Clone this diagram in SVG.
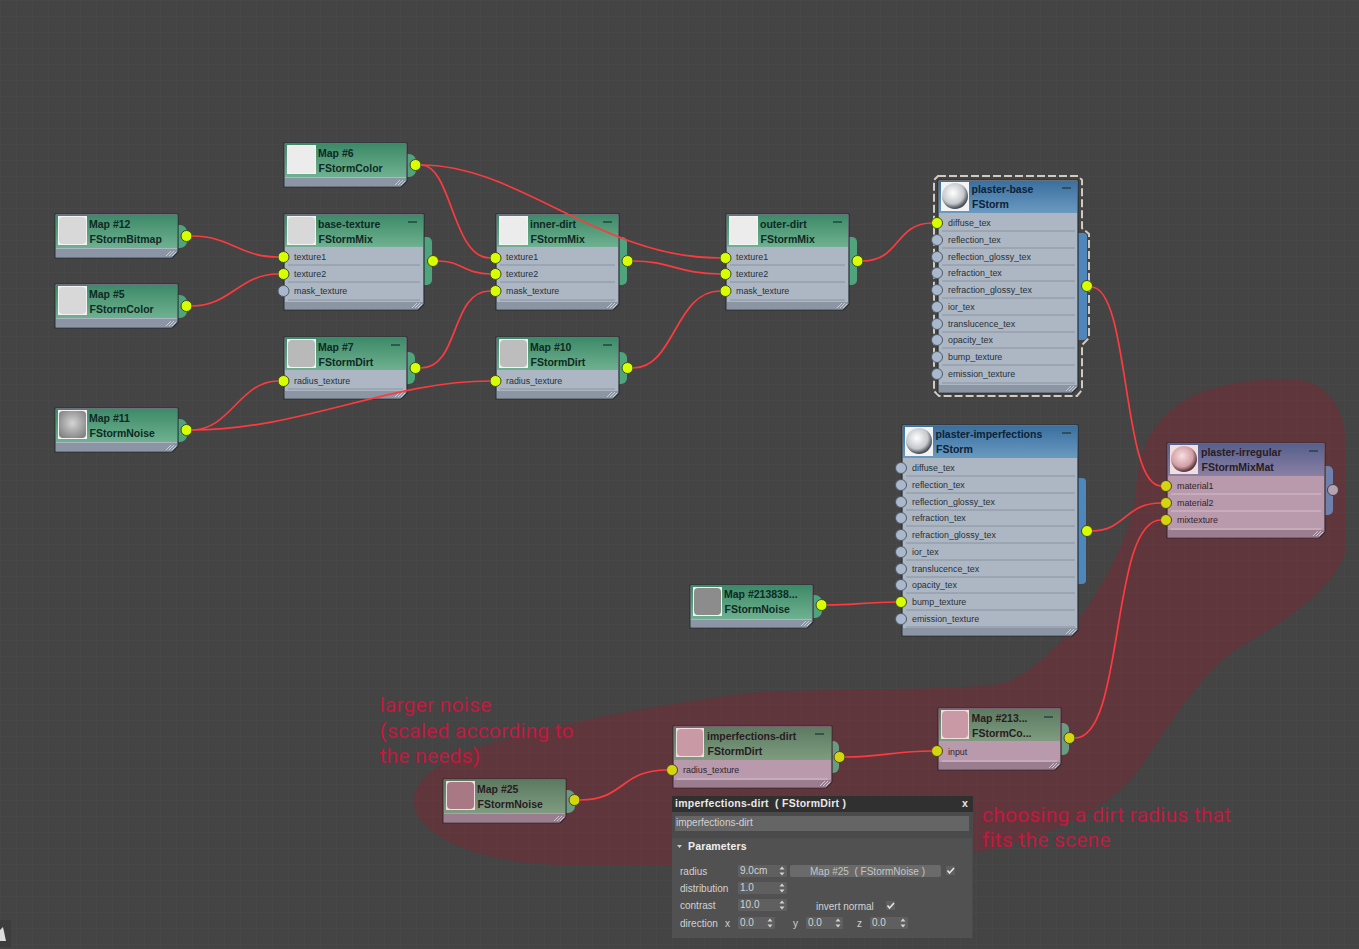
<svg xmlns="http://www.w3.org/2000/svg" width="1359" height="949" viewBox="0 0 1359 949">
<style>
.t{font-family:"Liberation Sans",Arial,sans-serif;font-size:10.5px;font-weight:700;fill:#0e2a24}
.tb{fill:#0c2238}
.tp{fill:#2a1c22}
.r{font-family:"Liberation Sans",Arial,sans-serif;font-size:8.9px;fill:#27303a}
.rp{fill:#33252e}
.box{fill:#adb7c3;stroke:#262f33;stroke-width:1.2;stroke-linejoin:round}
.boxp{fill:#b89aac;stroke:#3a2730;stroke-width:1.2;stroke-linejoin:round}
.foot{fill:#8b95a3}
.footp{fill:#9a7e90}
.g{fill:url(#hg)}
.gp{fill:url(#hgp)}
.b{fill:url(#hb)}
.vp{fill:url(#hv)}
.tabg{fill:#4fa37d}
.tabgp{fill:#6b9a82}
.tabb{fill:#4f86bb}
.tabv{fill:#7080ad}
.th{fill:#f3f3f3}
.thi{fill:#d8d8d8}
.thw{fill:#ececec}
.thp{fill:#f1dfe0}
.thq{fill:#c99aa6}
.sep{stroke:#8a94a0;stroke-width:1}
.sepp{stroke:#d6bdca;stroke-width:1}
.min{stroke:#244;stroke-width:1.5}
.on{fill:#d8ff00;stroke:#3d4a20;stroke-width:1}
.onp{fill:#d3d60f;stroke:#4a4220;stroke-width:1}
.off{fill:#a9b8cc;stroke:#4e5a68;stroke-width:1}
.offp{fill:#b5a2b0;stroke:#4b3b45;stroke-width:1}
.wire{fill:none;stroke:#ff3a3f;stroke-width:1.7}
.note{font-family:Roboto,"Liberation Sans",sans-serif;font-size:21px;fill:#c3183f;letter-spacing:.2px}
.p{font-family:"Liberation Sans",Arial,sans-serif;font-size:10px;fill:#d2d2d2}
.pt{font-family:"Liberation Sans",Arial,sans-serif;font-size:10.5px;font-weight:700;fill:#e8e8e8}
.f{fill:#5f5f5f}
</style>
<defs>
<pattern id="grid" width="16" height="16" patternUnits="userSpaceOnUse">
<path d="M16 0H0V16" fill="none" stroke="#4a4a4a" stroke-width="1"/>
</pattern>
<linearGradient id="hg" x1="0" y1="0" x2="0" y2="1"><stop offset="0" stop-color="#3d8a68"/><stop offset="1" stop-color="#6fb190"/></linearGradient>
<linearGradient id="hgp" x1="0" y1="0" x2="0" y2="1"><stop offset="0" stop-color="#5b7a60"/><stop offset="1" stop-color="#7f9c80"/></linearGradient>
<linearGradient id="hb" x1="0" y1="0" x2="0" y2="1"><stop offset="0" stop-color="#3a6f9f"/><stop offset="1" stop-color="#6a9ac0"/></linearGradient>
<linearGradient id="hv" x1="0" y1="0" x2="0" y2="1"><stop offset="0" stop-color="#56608c"/><stop offset="1" stop-color="#8a80a4"/></linearGradient>
<radialGradient id="ball" cx=".42" cy=".38" r=".6"><stop offset="0" stop-color="#fff"/><stop offset=".7" stop-color="#c4c8cc"/><stop offset="1" stop-color="#4a5058"/></radialGradient>
<radialGradient id="ballp" cx=".42" cy=".38" r=".6"><stop offset="0" stop-color="#f6dfe2"/><stop offset=".7" stop-color="#d29ea6"/><stop offset="1" stop-color="#5a3a42"/></radialGradient>
<radialGradient id="noise" cx=".5" cy=".45" r=".65"><stop offset="0" stop-color="#d4d4d4"/><stop offset="1" stop-color="#808080"/></radialGradient>
<path id="hatch" d="M-11 -1L-6 -6M-8 -1L-3 -6M-5 -1L-1 -5" fill="none" stroke="#e2e6ea" stroke-width=".7"/>
<path id="spin" d="M-2.500 -1.500L0 -4.500L2.500 -1.500ZM-2.500 1.500L0 4.500L2.500 1.500Z" fill="#d2d2d2"/>
<path id="tick" d="M-3 0L-1 2.500L3.500 -2.500" fill="none" stroke="#e4e4e4" stroke-width="1.6"/>
</defs>
<rect width="1359" height="949" fill="#444444"/>
<rect width="1359" height="949" fill="url(#grid)"/>
<path id="highlight" d="M1300 380C1330 385 1346 410 1346 450L1346 550C1335 590 1280 625 1235 650C1195 680 1170 725 1135 775C1100 815 1040 840 980 852C880 866 680 866 560 865C480 864 413 835 413 800C415 780 440 762 470 750C540 728 640 706 760 692C880 688 960 690 1000 684C1060 668 1125 560 1135 500C1138 450 1150 420 1190 397C1220 383 1270 376 1300 380Z" fill="#901e30" fill-opacity=".36"/>

<g id="map6">
<rect class="tabg" x="400" y="154" width="16" height="23" rx="7"/>
<path class="box" d="M284 143H407V181L401 187H284Z"/><path class="foot" d="M285 178H406V181L401 186H285Z"/>
<path class="g" d="M285 144H406V177H285Z"/><rect class="th" x="287" y="145" width="29" height="29"/><rect class="thw" x="288" y="146" width="27" height="27" rx="4"/>
<text class="t" x="318" y="157">Map #6</text><text class="t" x="318.500" y="172">FStormColor</text>
<use href="#hatch" x="406" y="186"/>
<circle class="on" cx="415.500" cy="165" r="5.500"/>
</g>
<g id="map12">
<rect class="tabg" x="171" y="225" width="16" height="23" rx="7"/>
<path class="box" d="M55 214H178V252L172 258H55Z"/><path class="foot" d="M56 249H177V252L172 257H56Z"/>
<path class="g" d="M56 215H177V248H56Z"/><rect class="th" x="58" y="216" width="29" height="29"/><rect class="thi" x="59" y="217" width="27" height="27" rx="4"/>
<text class="t" x="89" y="228">Map #12</text><text class="t" x="89.500" y="243">FStormBitmap</text>
<use href="#hatch" x="177" y="257"/>
<circle class="on" cx="186.500" cy="236" r="5.500"/>
</g>
<g id="map5">
<rect class="tabg" x="171" y="295" width="16" height="23" rx="7"/>
<path class="box" d="M55 284H178V322L172 328H55Z"/><path class="foot" d="M56 319H177V322L172 327H56Z"/>
<path class="g" d="M56 285H177V318H56Z"/><rect class="th" x="58" y="286" width="29" height="29"/><rect class="thi" x="59" y="287" width="27" height="27" rx="4"/>
<text class="t" x="89" y="298">Map #5</text><text class="t" x="89.500" y="313">FStormColor</text>
<use href="#hatch" x="177" y="327"/>
<circle class="on" cx="186.500" cy="306" r="5.500"/>
</g>
<g id="map11">
<rect class="tabg" x="171" y="419" width="16" height="23" rx="7"/>
<path class="box" d="M55 408H178V446L172 452H55Z"/><path class="foot" d="M56 443H177V446L172 451H56Z"/>
<path class="g" d="M56 409H177V442H56Z"/><rect class="th" x="58" y="410" width="29" height="29"/><rect x="59" y="411" width="27" height="27" rx="4" fill="url(#noise)"/>
<text class="t" x="89" y="422">Map #11</text><text class="t" x="89.500" y="437">FStormNoise</text>
<use href="#hatch" x="177" y="451"/>
<circle class="on" cx="186.500" cy="430" r="5.500"/>
</g>
<g id="base-texture">
<rect class="tabg" x="418" y="237" width="14" height="48" rx="5"/>
<path class="box" d="M284 214H424V304L418 310H284Z"/><path class="foot" d="M285 302H423V304L418 309H285Z"/>
<path class="g" d="M285 215H423V247H285Z"/><rect class="th" x="287" y="216" width="29" height="29"/><rect class="thi" x="288" y="217" width="27" height="27" rx="4"/>
<text class="t" x="318" y="228">base-texture</text><text class="t" x="318.500" y="243">FStormMix</text>
<path class="min" d="M408 222h9"/>
<path class="sep" d="M288 265H420M288 282H420M288 300H420"/>
<text class="r" x="294" y="260">texture1</text><text class="r" x="294" y="277">texture2</text><text class="r" x="294" y="294">mask_texture</text>
<use href="#hatch" x="423" y="309"/>
<circle class="on" cx="283.500" cy="257" r="5.500"/><circle class="on" cx="283.500" cy="274" r="5.500"/><circle class="off" cx="283.500" cy="291" r="5.500"/><circle class="on" cx="433" cy="261" r="5.500"/>
</g>
<g id="map7">
<rect class="tabg" x="400" y="352" width="15" height="32" rx="6"/>
<path class="box" d="M284 337H407V393L401 399H284Z"/><path class="foot" d="M285 391H406V393L401 398H285Z"/>
<path class="g" d="M285 338H406V370H285Z"/><rect class="th" x="287" y="339" width="29" height="29"/><rect x="288" y="340" width="27" height="27" rx="4" fill="#b9b9b9"/>
<text class="t" x="318" y="351">Map #7</text><text class="t" x="318.500" y="366">FStormDirt</text>
<path class="min" d="M391 345h9"/>
<path class="sep" d="M288 389H403"/>
<text class="r" x="294" y="384">radius_texture</text>
<use href="#hatch" x="406" y="398"/>
<circle class="on" cx="283.500" cy="381" r="5.500"/><circle class="on" cx="415.500" cy="368" r="5.500"/>
</g>
<g id="inner-dirt">
<rect class="tabg" x="613" y="237" width="14" height="48" rx="5"/>
<path class="box" d="M496 214H619V304L613 310H496Z"/><path class="foot" d="M497 302H618V304L613 309H497Z"/>
<path class="g" d="M497 215H618V247H497Z"/><rect class="th" x="499" y="216" width="29" height="29"/><rect class="thw" x="500" y="217" width="27" height="27" rx="4"/>
<text class="t" x="530" y="228">inner-dirt</text><text class="t" x="530.500" y="243">FStormMix</text>
<path class="min" d="M603 222h9"/>
<path class="sep" d="M500 265H615M500 282H615M500 300H615"/>
<text class="r" x="506" y="260">texture1</text><text class="r" x="506" y="277">texture2</text><text class="r" x="506" y="294">mask_texture</text>
<use href="#hatch" x="618" y="309"/>
<circle class="on" cx="495.500" cy="258" r="5.500"/><circle class="on" cx="495.500" cy="274" r="5.500"/><circle class="on" cx="495.500" cy="291" r="5.500"/><circle class="on" cx="627.500" cy="261" r="5.500"/>
</g>
<g id="map10">
<rect class="tabg" x="613" y="352" width="14" height="32" rx="6"/>
<path class="box" d="M496 337H619V393L613 399H496Z"/><path class="foot" d="M497 391H618V393L613 398H497Z"/>
<path class="g" d="M497 338H618V370H497Z"/><rect class="th" x="499" y="339" width="29" height="29"/><rect x="500" y="340" width="27" height="27" rx="4" fill="#bdbdbd"/>
<text class="t" x="530" y="351">Map #10</text><text class="t" x="530.500" y="366">FStormDirt</text>
<path class="min" d="M603 345h9"/>
<path class="sep" d="M500 389H615"/>
<text class="r" x="506" y="384">radius_texture</text>
<use href="#hatch" x="618" y="398"/>
<circle class="on" cx="495.500" cy="381" r="5.500"/><circle class="on" cx="627.500" cy="368" r="5.500"/>
</g>
<g id="outer-dirt">
<rect class="tabg" x="843" y="237" width="14" height="48" rx="5"/>
<path class="box" d="M726 214H849V304L843 310H726Z"/><path class="foot" d="M727 302H848V304L843 309H727Z"/>
<path class="g" d="M727 215H848V247H727Z"/><rect class="th" x="729" y="216" width="29" height="29"/><rect class="thw" x="730" y="217" width="27" height="27" rx="4"/>
<text class="t" x="760" y="228">outer-dirt</text><text class="t" x="760.500" y="243">FStormMix</text>
<path class="min" d="M833 222h9"/>
<path class="sep" d="M730 265H845M730 282H845M730 300H845"/>
<text class="r" x="736" y="260">texture1</text><text class="r" x="736" y="277">texture2</text><text class="r" x="736" y="294">mask_texture</text>
<use href="#hatch" x="848" y="309"/>
<circle class="on" cx="725.500" cy="258" r="5.500"/><circle class="on" cx="725.500" cy="274" r="5.500"/><circle class="on" cx="725.500" cy="291" r="5.500"/><circle class="on" cx="857.500" cy="261" r="5.500"/>
</g>
<g id="plaster-base">
<path d="M938 176H1078L1082 180V228L1089 234V338L1082 345V390L1077 396H939L934 391V180Z" fill="none" stroke="#cfcac2" stroke-width="2" stroke-dasharray="8 3"/>
<rect class="tabb" x="1072" y="233" width="15" height="107" rx="4"/>
<path class="box" d="M938 180H1078V387L1072 393H938Z"/><path class="foot" d="M939 385H1077V387L1072 392H939Z"/>
<path class="b" d="M939 181H1077V213H939Z"/><rect class="th" x="941" y="182" width="28" height="29"/><circle cx="955" cy="196" r="13" fill="url(#ball)"/>
<text class="t tb" x="971.500" y="193">plaster-base</text><text class="t tb" x="972" y="208">FStorm</text>
<path class="min" d="M1062 188h9"/>
<path class="sep" d="M942 231H1075M942 248H1075M942 265H1075M942 281H1075M942 298H1075M942 315H1075M942 332H1075M942 348H1075M942 365H1075M942 383H1075"/>
<text class="r" x="948" y="226">diffuse_tex</text><text class="r" x="948" y="243">reflection_tex</text><text class="r" x="948" y="260">reflection_glossy_tex</text><text class="r" x="948" y="276">refraction_tex</text><text class="r" x="948" y="293">refraction_glossy_tex</text><text class="r" x="948" y="310">ior_tex</text><text class="r" x="948" y="327">translucence_tex</text><text class="r" x="948" y="343">opacity_tex</text><text class="r" x="948" y="360">bump_texture</text><text class="r" x="948" y="377">emission_texture</text>
<use href="#hatch" x="1077" y="392"/>
<circle class="on" cx="937" cy="223" r="5.500"/><circle class="off" cx="937" cy="240" r="5.500"/><circle class="off" cx="937" cy="257" r="5.500"/><circle class="off" cx="937" cy="273" r="5.500"/><circle class="off" cx="937" cy="290" r="5.500"/><circle class="off" cx="937" cy="307" r="5.500"/><circle class="off" cx="937" cy="324" r="5.500"/><circle class="off" cx="937" cy="340" r="5.500"/><circle class="off" cx="937" cy="357" r="5.500"/><circle class="off" cx="937" cy="374" r="5.500"/><circle class="on" cx="1087" cy="286" r="5.500"/>
</g>
<g id="plaster-imperfections">
<rect class="tabb" x="1072" y="478" width="14" height="106" rx="4"/>
<path class="box" d="M902 425H1078V630L1072 636H902Z"/><path class="foot" d="M903 628H1077V630L1072 635H903Z"/>
<path class="b" d="M903 426H1077V458H903Z"/><rect class="th" x="905" y="427" width="28" height="29"/><circle cx="919" cy="441" r="13" fill="url(#ball)"/>
<text class="t tb" x="935.500" y="438">plaster-imperfections</text><text class="t tb" x="936" y="453">FStorm</text>
<path class="min" d="M1062 433h9"/>
<path class="sep" d="M906 476H1075M906 493H1075M906 510H1075M906 526H1075M906 543H1075M906 560H1075M906 577H1075M906 593H1075M906 610H1075M906 627H1075"/>
<text class="r" x="912" y="471">diffuse_tex</text><text class="r" x="912" y="488">reflection_tex</text><text class="r" x="912" y="505">reflection_glossy_tex</text><text class="r" x="912" y="521">refraction_tex</text><text class="r" x="912" y="538">refraction_glossy_tex</text><text class="r" x="912" y="555">ior_tex</text><text class="r" x="912" y="572">translucence_tex</text><text class="r" x="912" y="588">opacity_tex</text><text class="r" x="912" y="605">bump_texture</text><text class="r" x="912" y="622">emission_texture</text>
<use href="#hatch" x="1077" y="635"/>
<circle class="off" cx="901" cy="468" r="5.500"/><circle class="off" cx="901" cy="485" r="5.500"/><circle class="off" cx="901" cy="502" r="5.500"/><circle class="off" cx="901" cy="518" r="5.500"/><circle class="off" cx="901" cy="535" r="5.500"/><circle class="off" cx="901" cy="552" r="5.500"/><circle class="off" cx="901" cy="569" r="5.500"/><circle class="off" cx="901" cy="585" r="5.500"/><circle class="on" cx="901" cy="602" r="5.500"/><circle class="off" cx="901" cy="619" r="5.500"/><circle class="on" cx="1087" cy="531" r="5.500"/>
</g>
<g id="map213838">
<rect class="tabg" x="806" y="595" width="16" height="23" rx="7"/>
<path class="box" d="M690 585H813V622L807 628H690Z"/><path class="foot" d="M691 620H812V622L807 627H691Z"/>
<path class="g" d="M691 586H812V619H691Z"/><rect class="th" x="693" y="587" width="29" height="29"/><rect x="694" y="588" width="27" height="27" rx="4" fill="#8c8c8c"/>
<text class="t" x="724" y="598">Map #213838...</text><text class="t" x="724.500" y="613">FStormNoise</text>
<use href="#hatch" x="812" y="627"/>
<circle class="on" cx="821.500" cy="605" r="5.500"/>
</g>
<g id="plaster-irregular">
<rect class="tabv" x="1319" y="466" width="14" height="49" rx="5"/>
<path class="boxp" d="M1167 443H1325V532L1319 538H1167Z"/><path class="footp" d="M1168 530H1324V532L1319 537H1168Z"/>
<path class="vp" d="M1168 444H1324V476H1168Z"/><rect class="thp" x="1170" y="445" width="28" height="29"/><circle cx="1184" cy="459" r="13" fill="url(#ballp)"/>
<text class="t tp" x="1201" y="456">plaster-irregular</text><text class="t tp" x="1201.500" y="471">FStormMixMat</text>
<path class="min" d="M1309 451h9"/>
<path class="sepp" d="M1171 494H1321M1171 511H1321M1171 529H1321"/>
<text class="r rp" x="1177" y="489">material1</text><text class="r rp" x="1177" y="506">material2</text><text class="r rp" x="1177" y="523">mixtexture</text>
<use href="#hatch" x="1324" y="537"/>
<circle class="onp" cx="1166" cy="486" r="5.500"/><circle class="onp" cx="1166" cy="503" r="5.500"/><circle class="onp" cx="1166" cy="520" r="5.500"/><circle class="offp" cx="1333" cy="490" r="5.500"/>
</g>
<g id="imperfections-dirt">
<rect class="tabgp" x="826" y="741" width="13" height="32" rx="6"/>
<path class="boxp" d="M673 726H832V782L826 788H673Z"/><path class="footp" d="M674 780H831V782L826 787H674Z"/>
<path class="gp" d="M674 727H831V760H674Z"/><rect class="thp" x="676" y="728" width="28" height="29"/><rect class="thq" x="677" y="729" width="26" height="27" rx="4"/>
<text class="t tp" x="707" y="740">imperfections-dirt</text><text class="t tp" x="707.500" y="755">FStormDirt</text>
<path class="min" d="M815 734h9"/>
<path class="sepp" d="M677 779H828"/>
<text class="r rp" x="683" y="773">radius_texture</text>
<use href="#hatch" x="831" y="787"/>
<circle class="onp" cx="672" cy="770" r="5.500"/><circle class="onp" cx="839.500" cy="757" r="5.500"/>
</g>
<g id="map213">
<rect class="tabgp" x="1055" y="723" width="14" height="32" rx="6"/>
<path class="boxp" d="M938 708H1061V764L1055 770H938Z"/><path class="footp" d="M939 762H1060V764L1055 769H939Z"/>
<path class="gp" d="M939 709H1060V741H939Z"/><rect class="thp" x="941" y="710" width="28" height="29"/><rect class="thq" x="942" y="711" width="26" height="27" rx="4"/>
<text class="t tp" x="971.500" y="722">Map #213...</text><text class="t tp" x="972" y="737">FStormCo...</text>
<path class="min" d="M1044 717h9"/>
<path class="sepp" d="M942 761H1057"/>
<text class="r rp" x="948" y="755">input</text>
<use href="#hatch" x="1060" y="769"/>
<circle class="onp" cx="937" cy="751" r="5.500"/><circle class="onp" cx="1069.500" cy="738" r="5.500"/>
</g>
<g id="map25">
<rect class="tabgp" x="559" y="790" width="16" height="23" rx="7"/>
<path class="boxp" d="M443 779H566V817L560 823H443Z"/><path class="footp" d="M444 814H565V817L560 822H444Z"/>
<path class="gp" d="M444 780H565V813H444Z"/><rect class="thp" x="446" y="781" width="29" height="29"/><rect x="447" y="782" width="27" height="27" rx="4" fill="#a87884"/>
<text class="t tp" x="477" y="793">Map #25</text><text class="t tp" x="477.500" y="808">FStormNoise</text>
<use href="#hatch" x="565" y="822"/>
<circle class="onp" cx="574.500" cy="800" r="5.500"/>
</g>

<g id="connectors">
<path class="wire" d="M421 165C452 165 452 258 490 258"/>
<path class="wire" d="M421 165C520 165 600 258 720 258"/>
<path class="wire" d="M192 236C230 236 240 257 278 257"/>
<path class="wire" d="M192 306C230 306 240 274 278 274"/>
<path class="wire" d="M438 261C462 261 465 274 490 274"/>
<path class="wire" d="M421 368C460 368 450 291 490 291"/>
<path class="wire" d="M633 261C670 261 680 274 720 274"/>
<path class="wire" d="M192 430C230 430 240 381 278 381"/>
<path class="wire" d="M192 430C300 430 390 381 490 381"/>
<path class="wire" d="M633 368C675 368 675 291 720 291"/>
<path class="wire" d="M863 261C900 261 895 223 932 223"/>
<path class="wire" d="M1092 287C1130 290 1122 486 1161 486"/>
<path class="wire" d="M1092 531C1125 531 1125 503 1161 503"/>
<path class="wire" d="M827 605C850 605 870 602 896 602"/>
<path class="wire" d="M580 800C625 800 620 770 667 770"/>
<path class="wire" d="M845 757C880 757 895 751 932 751"/>
<path class="wire" d="M1075 738C1125 738 1110 520 1161 520"/>
</g>

<g id="notes">
<text class="note" x="379.500" y="712">larger noise</text>
<text class="note" x="379.500" y="738">(scaled according to</text>
<text class="note" x="379.500" y="763">the needs)</text>
<text class="note" x="982" y="822">choosing a dirt radius that</text>
<text class="note" x="982" y="847">fits the scene</text>
</g>

<g id="parameters-panel">
<rect x="672" y="796" width="301" height="142" fill="#4a4a4a"/>
<rect x="672" y="796" width="301" height="16" fill="#303030"/>
<text class="pt" x="675" y="807" xml:space="preserve" letter-spacing=".25">imperfections-dirt  ( FStormDirt )</text>
<text class="pt" x="962" y="807">x</text>
<rect x="675" y="816" width="294" height="15" fill="#656565"/>
<text class="p" x="676" y="826">imperfections-dirt</text>
<rect x="672" y="838" width="300" height="100" fill="#515151"/>
<path d="M677 845h5l-2.500 3z" fill="#ccc"/>
<text class="pt" x="688" y="850" letter-spacing=".15" style="fill:#eee">Parameters</text>
<text class="p" x="680" y="875">radius</text><text class="p" x="680" y="892">distribution</text><text class="p" x="680" y="909">contrast</text><text class="p" x="680" y="927">direction</text>
<text class="p" x="725" y="927">x</text><text class="p" x="793" y="927">y</text><text class="p" x="857" y="927">z</text>
<rect class="f" x="738" y="865" width="49" height="12" rx="1"/><text class="p" x="740" y="874">9.0cm</text><use href="#spin" x="782" y="871"/>
<rect class="f" x="738" y="882" width="49" height="12" rx="1"/><text class="p" x="740" y="891">1.0</text><use href="#spin" x="782" y="888"/>
<rect class="f" x="738" y="899" width="49" height="12" rx="1"/><text class="p" x="740" y="908">10.0</text><use href="#spin" x="782" y="905"/>
<rect class="f" x="738" y="917" width="37" height="12" rx="1"/><text class="p" x="740" y="926">0.0</text><use href="#spin" x="770" y="923"/>
<rect class="f" x="806" y="917" width="37" height="12" rx="1"/><text class="p" x="808" y="926">0.0</text><use href="#spin" x="838" y="923"/>
<rect class="f" x="870" y="917" width="38" height="12" rx="1"/><text class="p" x="872" y="926">0.0</text><use href="#spin" x="903" y="923"/>
<rect x="790" y="865" width="151" height="12" rx="2" fill="#6a6a6a"/><text class="p" x="810" y="875" xml:space="preserve" style="fill:#c4c4c4">Map #25  ( FStormNoise )</text>
<rect class="f" x="946" y="866" width="9" height="9"/><use href="#tick" x="950.500" y="870.500"/>
<text class="p" x="816" y="910">invert normal</text><rect class="f" x="886" y="901" width="9" height="9"/><use href="#tick" x="890.500" y="905.500"/>
</g>
<g id="corner-icon">
<rect x="0" y="920" width="11" height="27" fill="#3d3d3d"/>
<path d="M0 930L3 927L6 941H0Z" fill="#dcdcdc"/>
</g>
</svg>
